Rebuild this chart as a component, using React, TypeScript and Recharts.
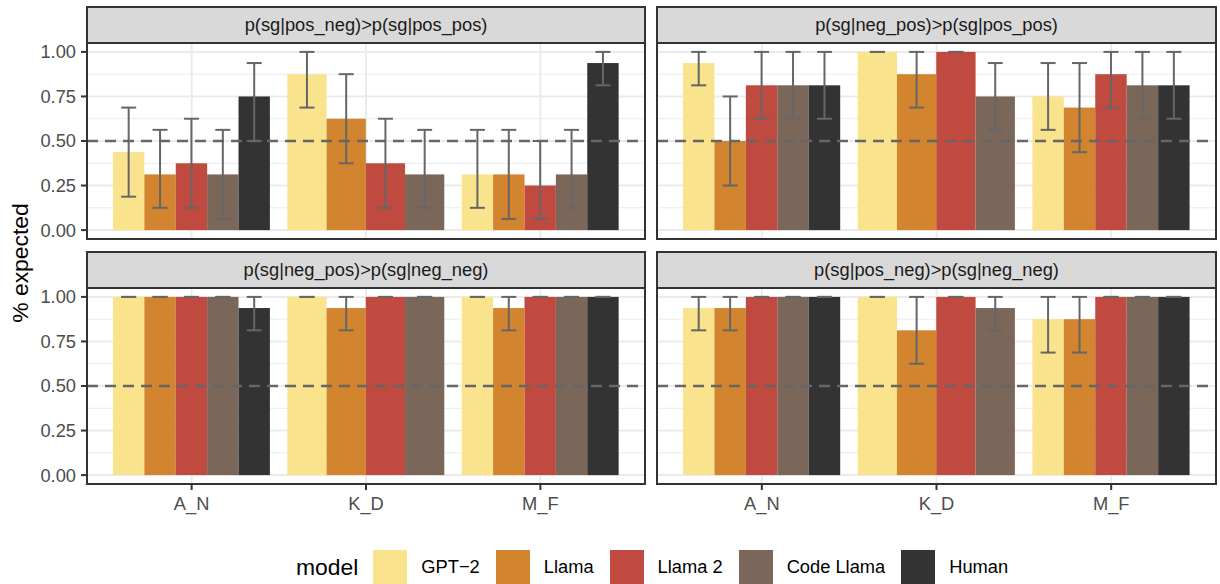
import React from "react";
import {
  ComposedChart,
  Bar,
  Cell,
  ErrorBar,
  XAxis,
  YAxis,
  CartesianGrid,
  ReferenceLine,
} from "recharts";

// categories and series
const GROUPS = ["A_N", "K_D", "M_F"];
const GROUP_POS = [1, 2, 3];
const MODELS = ["GPT−2", "Llama", "Llama 2", "Code Llama", "Human"];
const COLORS = ["#F9E38C", "#D3842F", "#C04A40", "#7B665A", "#333333"];
const Y_TICKS = [0, 0.25, 0.5, 0.75, 1];
const Y_MINOR = [0.125, 0.375, 0.625, 0.875];
const CHANCE = 0.5;

// p(sg|pos_neg)>p(sg|pos_pos)   rows = groups, cols = models
const PN_PP_MEAN = [
  [0.4375, 0.3125, 0.375, 0.3125, 0.75],
  [0.875, 0.625, 0.375, 0.3125, null],
  [0.3125, 0.3125, 0.25, 0.3125, 0.9375],
];
const PN_PP_LOW = [
  [0.1875, 0.125, 0.125, 0.0625, 0.5],
  [0.6875, 0.375, 0.125, 0.125, null],
  [0.125, 0.0625, 0.0625, 0.125, 0.8125],
];
const PN_PP_HIGH = [
  [0.6875, 0.5625, 0.625, 0.5625, 0.9375],
  [1, 0.875, 0.625, 0.5625, null],
  [0.5625, 0.5625, 0.5, 0.5625, 1],
];

// p(sg|neg_pos)>p(sg|pos_pos)
const NP_PP_MEAN = [
  [0.9375, 0.5, 0.8125, 0.8125, 0.8125],
  [1, 0.875, 1, 0.75, null],
  [0.75, 0.6875, 0.875, 0.8125, 0.8125],
];
const NP_PP_LOW = [
  [0.8125, 0.25, 0.625, 0.625, 0.625],
  [1, 0.6875, 1, 0.5625, null],
  [0.5625, 0.4375, 0.6875, 0.625, 0.625],
];
const NP_PP_HIGH = [
  [1, 0.75, 1, 1, 1],
  [1, 1, 1, 0.9375, null],
  [0.9375, 0.9375, 1, 1, 1],
];

// p(sg|neg_pos)>p(sg|neg_neg)
const NP_NN_MEAN = [
  [1, 1, 1, 1, 0.9375],
  [1, 0.9375, 1, 1, null],
  [1, 0.9375, 1, 1, 1],
];
const NP_NN_LOW = [
  [1, 1, 1, 1, 0.8125],
  [1, 0.8125, 1, 1, null],
  [1, 0.8125, 1, 1, 1],
];
const NP_NN_HIGH = [
  [1, 1, 1, 1, 1],
  [1, 1, 1, 1, null],
  [1, 1, 1, 1, 1],
];

// p(sg|pos_neg)>p(sg|neg_neg)
const PN_NN_MEAN = [
  [0.9375, 0.9375, 1, 1, 1],
  [1, 0.8125, 1, 0.9375, null],
  [0.875, 0.875, 1, 1, 1],
];
const PN_NN_LOW = [
  [0.8125, 0.8125, 1, 1, 1],
  [1, 0.625, 1, 0.8125, null],
  [0.6875, 0.6875, 1, 1, 1],
];
const PN_NN_HIGH = [
  [1, 1, 1, 1, 1],
  [1, 1, 1, 1, null],
  [1, 1, 1, 1, 1],
];

const FONT = '"Liberation Sans", Arial, Helvetica, sans-serif';
const DODGE = 0.9;
const X_DOMAIN = [0.4, 3.6];
const Y_DOMAIN = [-0.05, 1.05];
const Y_AXIS_W = 87;
const PLOT_H = 196;
const X_AXIS_H = 40;
const PAD = 12;

type Row = {
  x: number;
  span: number;
  value: number;
  err: [number, number];
  model: number;
};

function buildRows(
  mean: (number | null)[][],
  low: (number | null)[][],
  high: (number | null)[][]
): Row[] {
  const rows: Row[] = [];
  mean.forEach((vals, g) => {
    const present = vals.map((_, m) => m).filter((m) => vals[m] != null);
    const span = DODGE / present.length;
    present.forEach((m, k) => {
      const v = vals[m] as number;
      rows.push({
        x: GROUP_POS[g] - DODGE / 2 + (k + 0.5) * span,
        span,
        value: v,
        err: [v - (low[g][m] as number), (high[g][m] as number) - v],
        model: m,
      });
    });
  });
  return rows;
}

function Panel({
  title,
  rows,
  left,
  top,
  width,
  showY,
  showX,
}: {
  title: string;
  rows: Row[];
  left: number;
  top: number;
  width: number;
  showY: boolean;
  showX: boolean;
}) {
  const pxPerUnit = width / (X_DOMAIN[1] - X_DOMAIN[0]);
  const baseSize = Math.round((DODGE / 5) * pxPerUnit);
  const chartW = width + (showY ? Y_AXIS_W : 0);
  const bottomPad = showX ? 0 : PAD;
  const chartH = PAD + PLOT_H + (showX ? X_AXIS_H : 0) + bottomPad;

  const shape = (props: any) => {
    const { x, y, width: w, height, payload, fill } = props;
    const cx = x + w / 2;
    const bw = payload.span * pxPerUnit;
    return <rect x={cx - bw / 2} y={y} width={bw} height={height} fill={fill} />;
  };

  return (
    <>
      <div
        style={{
          position: "absolute",
          left: left - (showY ? Y_AXIS_W : 0),
          top: top - PAD,
          width: chartW,
          height: chartH,
        }}
      >
        <ComposedChart
          width={chartW}
          height={chartH}
          data={rows}
          margin={{ top: PAD, right: 0, bottom: bottomPad, left: 0 }}
        >
          <CartesianGrid
            horizontalValues={Y_MINOR}
            vertical={false}
            stroke="#EBEBEB"
            strokeWidth={1}
          />
          <CartesianGrid
            horizontalValues={Y_TICKS}
            verticalValues={GROUP_POS}
            stroke="#EBEBEB"
            strokeWidth={2}
          />
          <XAxis
            type="number"
            dataKey="x"
            domain={X_DOMAIN}
            ticks={GROUP_POS}
            interval={0}
            allowDataOverflow
            tickFormatter={(v: number) => GROUPS[v - 1]}
            hide={!showX}
            height={X_AXIS_H}
            axisLine={false}
            tickLine={{ stroke: "#333333", strokeWidth: 2 }}
            tickSize={6}
            tickMargin={7}
            tick={{ fontSize: 18.3, fill: "#4D4D4D", fontFamily: FONT }}
          />
          <YAxis
            type="number"
            domain={Y_DOMAIN}
            ticks={Y_TICKS}
            interval={0}
            allowDataOverflow
            tickFormatter={(v: number) => v.toFixed(2)}
            hide={!showY}
            width={Y_AXIS_W}
            axisLine={false}
            tickLine={{ stroke: "#333333", strokeWidth: 2 }}
            tickSize={6}
            tickMargin={5}
            tick={{ fontSize: 18.3, fill: "#4D4D4D", fontFamily: FONT }}
          />
          <Bar
            dataKey="value"
            barSize={baseSize}
            shape={shape}
            isAnimationActive={false}
          >
            {rows.map((r, i) => (
              <Cell key={i} fill={COLORS[r.model]} />
            ))}
            <ErrorBar
              dataKey="err"
              direction="y"
              width={7.5}
              stroke="#666666"
              strokeWidth={2}
              isAnimationActive={false}
            />
          </Bar>
          <ReferenceLine
            y={CHANCE}
            stroke="#666666"
            strokeWidth={2.5}
            strokeDasharray="11 7"
          />
        </ComposedChart>
      </div>
      <div
        style={{
          position: "absolute",
          left: left - 1,
          top: top - 1,
          width: width + 2,
          height: PLOT_H + 2,
          border: "2px solid #333333",
          boxSizing: "border-box",
          pointerEvents: "none",
        }}
      />
      <div
        style={{
          position: "absolute",
          left: left - 1,
          top: top - 37,
          width: width + 2,
          height: 38,
          border: "2px solid #333333",
          boxSizing: "border-box",
          background: "#D9D9D9",
          color: "#1A1A1A",
          fontSize: 18.3,
          fontFamily: FONT,
          display: "flex",
          alignItems: "center",
          justifyContent: "center",
        }}
      >
        {title}
      </div>
    </>
  );
}

export default function App() {
  const panels = [
    {
      title: "p(sg|pos_neg)>p(sg|pos_pos)",
      rows: buildRows(PN_PP_MEAN, PN_PP_LOW, PN_PP_HIGH),
      left: 87,
      top: 43,
      width: 558,
      showY: true,
      showX: false,
    },
    {
      title: "p(sg|neg_pos)>p(sg|pos_pos)",
      rows: buildRows(NP_PP_MEAN, NP_PP_LOW, NP_PP_HIGH),
      left: 657,
      top: 43,
      width: 559,
      showY: false,
      showX: false,
    },
    {
      title: "p(sg|neg_pos)>p(sg|neg_neg)",
      rows: buildRows(NP_NN_MEAN, NP_NN_LOW, NP_NN_HIGH),
      left: 87,
      top: 288,
      width: 558,
      showY: true,
      showX: true,
    },
    {
      title: "p(sg|pos_neg)>p(sg|neg_neg)",
      rows: buildRows(PN_NN_MEAN, PN_NN_LOW, PN_NN_HIGH),
      left: 657,
      top: 288,
      width: 559,
      showY: false,
      showX: true,
    },
  ];

  return (
    <div
      style={{
        position: "absolute",
        left: 0,
        top: 0,
        width: 1220,
        height: 584,
        background: "#FFFFFF",
        fontFamily: FONT,
        overflow: "hidden",
      }}
    >
      {panels.map((p) => (
        <Panel key={p.title} {...p} />
      ))}
      <div
        style={{
          position: "absolute",
          left: 20,
          top: 263,
          transform: "translate(-50%, -50%) rotate(-90deg)",
          fontSize: 22.9,
          color: "#000000",
          whiteSpace: "nowrap",
        }}
      >
        % expected
      </div>
      <div
        style={{
          position: "absolute",
          left: 296,
          top: 550,
          height: 34,
          display: "flex",
          alignItems: "center",
          whiteSpace: "nowrap",
        }}
      >
        <span style={{ fontSize: 22.9, marginRight: 15 }}>model</span>
        {MODELS.map((m, i) => (
          <React.Fragment key={m}>
            <span
              style={{
                display: "inline-block",
                width: 34,
                height: 34,
                background: COLORS[i],
              }}
            />
            <span style={{ fontSize: 18.3, marginLeft: 14, marginRight: 16 }}>
              {m}
            </span>
          </React.Fragment>
        ))}
      </div>
    </div>
  );
}
